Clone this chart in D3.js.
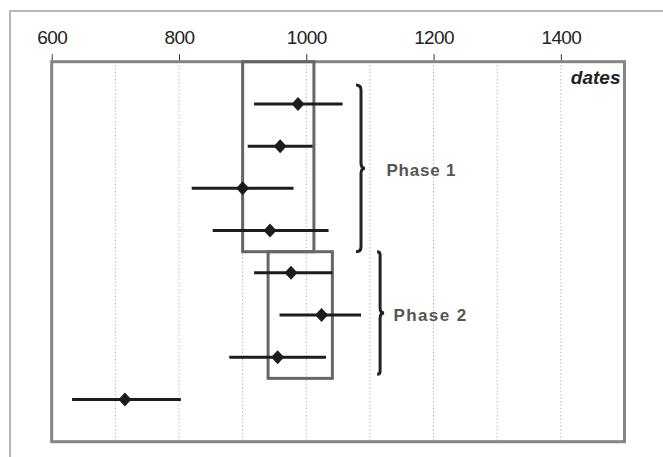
<!DOCTYPE html>
<html>
<head>
<meta charset="utf-8">
<script src="https://cdn.jsdelivr.net/npm/d3@7"></script>
<style>
  body { margin: 0; background: #fff; }
  svg { display: block; font-family: "Liberation Sans", Arial, sans-serif; }
</style>
</head>
<body>
<div id="chart"></div>
<script>
// dates per sample (low / central / high)
const dateLow = [918, 908, 820, 853, 918, 958, 879, 632]
const dateMid = [987, 959, 900, 943, 976, 1024, 955, 715]
const dateHigh = [1057, 1010, 980, 1035, 1041, 1086, 1031, 803]
const rowIndex = [1, 2, 3, 4, 5, 6, 7, 8]

// phases: date range of box, row range of box and brace
const phaseNames = ['Phase 1', 'Phase 2']
const phaseFrom = [900, 940]
const phaseTo = [1012, 1041]
const boxRowTop = [0, 4.5]
const boxRowBottom = [4.5, 7.5]
const braceRowTop = [0.55, 4.5]
const braceRowBottom = [4.5, 7.4]
const braceDate = [1086, 1116]
const labelDate = [1126, 1137]

const majorTicks = [600, 800, 1000, 1200, 1400]
const minorTicks = [700, 800, 900, 1000, 1100, 1200, 1300, 1400]

const W = 663, H = 457
const plotL = 51.7, plotR = 624.5, plotT = 61.7, plotB = 441.7

const svg = d3.select('#chart').append('svg')
    .attr('width', W)
    .attr('height', H)

const x = d3.scaleLinear().domain([600, 1500]).range([plotL, plotR])
const y = d3.scaleLinear().domain([0, 9]).range([plotT, plotB])

// outer frame (open to right and bottom)
svg.append('path')
    .attr('d', `M10,${H} L10,11 L${W},11`)
    .attr('fill', 'none')
    .attr('stroke', '#b8b8b8')
    .attr('stroke-width', 2)

// dotted grid
svg.append('g')
    .selectAll('line')
    .data(minorTicks)
    .enter()
    .append('line')
    .attr('x1', d => x(d)).attr('x2', d => x(d))
    .attr('y1', plotT).attr('y2', plotB)
    .attr('stroke', '#9a9a9a')
    .attr('stroke-width', 1)
    .attr('stroke-dasharray', '1,2.5')

// top axis
const axis = d3.axisTop(x)
    .tickValues(majorTicks)
    .tickSize(7)
    .tickSizeOuter(0)
    .tickFormat(d3.format('d'))
const axisG = svg.append('g')
    .attr('transform', `translate(0,${plotT - 0.5})`)
    .call(axis)
axisG.select('.domain').remove()
axisG.selectAll('.tick line').attr('stroke', '#333')
axisG.selectAll('.tick text')
    .attr('y', -17)
    .attr('dy', 0)
    .attr('fill', '#222')
    .style('font-size', '19px')
    .style('letter-spacing', '-0.6px')

// plot border
svg.append('rect')
    .attr('x', plotL).attr('y', plotT)
    .attr('width', plotR - plotL).attr('height', plotB - plotT)
    .attr('fill', 'none')
    .attr('stroke', '#858585')
    .attr('stroke-width', 3)

// phase boxes
svg.append('g')
    .selectAll('rect')
    .data(phaseNames)
    .enter()
    .append('rect')
    .attr('x', (d, i) => x(phaseFrom[i]))
    .attr('y', (d, i) => y(boxRowTop[i]))
    .attr('width', (d, i) => x(phaseTo[i]) - x(phaseFrom[i]))
    .attr('height', (d, i) => y(boxRowBottom[i]) - y(boxRowTop[i]))
    .attr('fill', 'none')
    .attr('stroke', '#666')
    .attr('stroke-width', 3)

// error bars
const rows = svg.append('g')
    .selectAll('g')
    .data(rowIndex)
    .enter()
    .append('g')

rows.append('line')
    .attr('x1', (d, i) => x(dateLow[i]))
    .attr('x2', (d, i) => x(dateHigh[i]))
    .attr('y1', d => y(d)).attr('y2', d => y(d))
    .attr('stroke', '#1c1c1c')
    .attr('stroke-width', 3)

rows.append('path')
    .attr('d', (d, i) => {
        let cx = x(dateMid[i]), cy = y(d)
        return `M${cx},${cy - 7} L${cx + 6.5},${cy} L${cx},${cy + 7} L${cx - 6.5},${cy} Z`
    })
    .attr('fill', '#1c1c1c')

// braces
function brace(bx, y0, y1, hook) {
    let ym = (y0 + y1) / 2
    return `M${bx - hook},${y0} Q${bx},${y0} ${bx},${y0 + hook}
        L${bx},${ym - 5} Q${bx},${ym} ${bx + 4},${ym}
        Q${bx},${ym} ${bx},${ym + 5}
        L${bx},${y1 - hook} Q${bx},${y1} ${bx - hook},${y1}`
}

const braces = svg.append('g')
    .selectAll('g')
    .data(phaseNames)
    .enter()
    .append('g')

braces.append('path')
    .attr('d', (d, i) => brace(x(braceDate[i]), y(braceRowTop[i]), y(braceRowBottom[i]), i ? 3 : 5))
    .attr('fill', 'none')
    .attr('stroke', '#222')
    .attr('stroke-width', 3)

braces.append('text')
    .attr('x', (d, i) => x(labelDate[i]))
    .attr('y', (d, i) => (y(braceRowTop[i]) + y(braceRowBottom[i])) / 2 + 8)
    .attr('fill', '#555')
    .style('font-size', '17px')
    .style('font-weight', 'bold')
    .style('letter-spacing', (d, i) => i ? '1.4px' : '0.8px')
    .text(d => d)

// series label
svg.append('text')
    .attr('x', plotR - 4)
    .attr('y', plotT + 22)
    .attr('text-anchor', 'end')
    .attr('fill', '#222')
    .style('font-size', '19px')
    .style('font-weight', 'bold')
    .style('font-style', 'italic')
    .text('dates')
</script>
</body>
</html>
